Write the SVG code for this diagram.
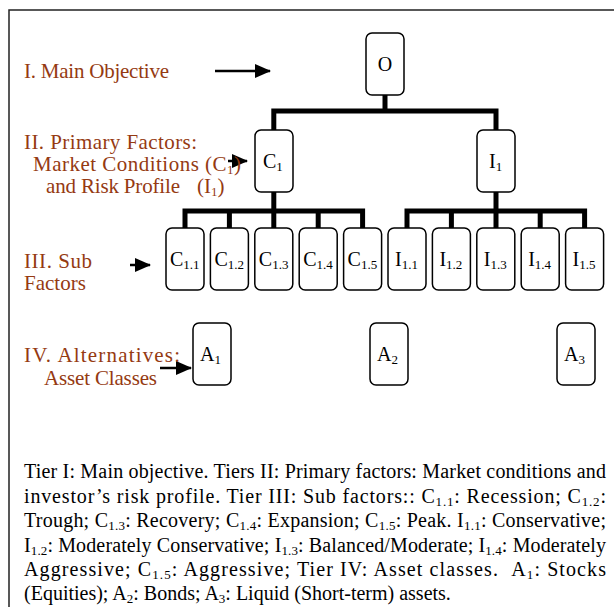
<svg xmlns="http://www.w3.org/2000/svg" width="614" height="607" viewBox="0 0 614 607">
<style>
.box{fill:#fff;stroke:#000;stroke-width:1.5}
.lab{font-family:"Liberation Serif","Times New Roman",serif;font-size:20px;fill:#000}
.tier{font-family:"Liberation Serif","Times New Roman",serif;font-size:21px;fill:#953A12}
.par{font-family:"Liberation Serif","Times New Roman",serif;font-size:20px;fill:#000}
.sub{font-size:13px}
.bar{fill:none;stroke:#000;stroke-width:5;stroke-linejoin:miter}
.arr{stroke:#000;stroke-width:2.5;fill:none}
</style>
<defs>
<marker id="ah" markerUnits="userSpaceOnUse" markerWidth="16" markerHeight="14" refX="15" refY="7" orient="auto">
<path d="M0,0 L16,7 L0,14 Z" fill="#000"/>
</marker>
</defs>
<rect width="614" height="607" fill="#fff"/>
<path d="M9,607 V10 H614" fill="none" stroke="#222" stroke-width="1.5"/>

<g id="connectors">
<path class="bar" d="M385,95 V111"/>
<path class="bar" d="M273.8,130 V111 H496 V130"/>
<path class="bar" d="M273.8,192 V211"/>
<path class="bar" d="M185,228 V211 H362.6 V228"/>
<path class="bar" d="M229.4,211 V228 M273.8,211 V228 M318.2,211 V228"/>
<path class="bar" d="M496,192 V211"/>
<path class="bar" d="M407,228 V211 H584.6 V228"/>
<path class="bar" d="M451.4,211 V228 M496,211 V228 M540.2,211 V228"/>
<line class="arr" x1="215" y1="71" x2="270" y2="71" marker-end="url(#ah)"/>
<line class="arr" x1="228" y1="161" x2="247" y2="161" marker-end="url(#ah)"/>
<line class="arr" x1="130" y1="265" x2="150" y2="265" marker-end="url(#ah)"/>
<line class="arr" x1="160" y1="368" x2="191" y2="368" marker-end="url(#ah)"/>
</g>

<g id="tier-labels">
<text class="tier" x="24" y="78" textLength="145" lengthAdjust="spacing">I. Main Objective</text>
<text class="tier" x="24" y="149" textLength="173" lengthAdjust="spacing">II. Primary Factors:</text>
<text class="tier" x="33" y="171" textLength="208" lengthAdjust="spacing">Market Conditions (C<tspan class="sub" dy="3">1</tspan><tspan dy="-3">)</tspan></text>
<text class="tier" x="46" y="193" textLength="134" lengthAdjust="spacing">and Risk Profile</text>
<text class="tier" x="197" y="193">(I<tspan class="sub" dy="3">1</tspan><tspan dy="-3">)</tspan></text>
<text class="tier" x="24" y="268" textLength="68" lengthAdjust="spacing">III. Sub</text>
<text class="tier" x="24" y="290">Factors</text>
<text class="tier" x="24" y="362" textLength="156" lengthAdjust="spacing">IV. Alternatives:</text>
<text class="tier" x="44" y="385" textLength="113" lengthAdjust="spacing">Asset Classes</text>
</g>

<g id="node-O"><rect class="box" x="366" y="33" width="38" height="62" rx="6"/><text class="lab" x="385" y="71" text-anchor="middle">O</text></g>
<g id="node-C1"><rect class="box" x="255" y="130" width="38" height="62" rx="6"/><text class="lab" x="263" y="168">C<tspan class="sub" dy="3">1</tspan></text></g>
<g id="node-I1"><rect class="box" x="477" y="130" width="38" height="62" rx="6"/><text class="lab" x="489" y="168">I<tspan class="sub" dy="3">1</tspan></text></g>

<g id="node-C1.1"><rect class="box" x="166" y="228" width="38" height="62" rx="6"/><text class="lab" x="170" y="266">C<tspan class="sub" dy="3">1.1</tspan></text></g>
<g id="node-C1.2"><rect class="box" x="210.4" y="228" width="38" height="62" rx="6"/><text class="lab" x="214.4" y="266">C<tspan class="sub" dy="3">1.2</tspan></text></g>
<g id="node-C1.3"><rect class="box" x="254.8" y="228" width="38" height="62" rx="6"/><text class="lab" x="258.8" y="266">C<tspan class="sub" dy="3">1.3</tspan></text></g>
<g id="node-C1.4"><rect class="box" x="299.2" y="228" width="38" height="62" rx="6"/><text class="lab" x="303.2" y="266">C<tspan class="sub" dy="3">1.4</tspan></text></g>
<g id="node-C1.5"><rect class="box" x="343.6" y="228" width="38" height="62" rx="6"/><text class="lab" x="347.6" y="266">C<tspan class="sub" dy="3">1.5</tspan></text></g>
<g id="node-I1.1"><rect class="box" x="388" y="228" width="38" height="62" rx="6"/><text class="lab" x="395" y="266">I<tspan class="sub" dy="3">1.1</tspan></text></g>
<g id="node-I1.2"><rect class="box" x="432.4" y="228" width="38" height="62" rx="6"/><text class="lab" x="439.4" y="266">I<tspan class="sub" dy="3">1.2</tspan></text></g>
<g id="node-I1.3"><rect class="box" x="476.8" y="228" width="38" height="62" rx="6"/><text class="lab" x="483.8" y="266">I<tspan class="sub" dy="3">1.3</tspan></text></g>
<g id="node-I1.4"><rect class="box" x="521.2" y="228" width="38" height="62" rx="6"/><text class="lab" x="528.2" y="266">I<tspan class="sub" dy="3">1.4</tspan></text></g>
<g id="node-I1.5"><rect class="box" x="565.6" y="228" width="38" height="62" rx="6"/><text class="lab" x="572.6" y="266">I<tspan class="sub" dy="3">1.5</tspan></text></g>

<g id="node-A1"><rect class="box" x="193" y="323" width="38" height="62" rx="6"/><text class="lab" x="200" y="361">A<tspan class="sub" dy="3">1</tspan></text></g>
<g id="node-A2"><rect class="box" x="370" y="323" width="38" height="62" rx="6"/><text class="lab" x="377" y="361">A<tspan class="sub" dy="3">2</tspan></text></g>
<g id="node-A3"><rect class="box" x="557" y="323" width="38" height="62" rx="6"/><text class="lab" x="564" y="361">A<tspan class="sub" dy="3">3</tspan></text></g>

<g id="caption">
<text class="par" x="24" y="478" textLength="582" lengthAdjust="spacing">Tier I: Main objective. Tiers II: Primary factors: Market conditions and</text>
<text class="par" x="24" y="503" textLength="582" lengthAdjust="spacing">investor’s risk profile. Tier III: Sub factors:: C<tspan class="sub" dy="3">1.1</tspan><tspan dy="-3">: Recession; C</tspan><tspan class="sub" dy="3">1.2</tspan><tspan dy="-3">:</tspan></text>
<text class="par" x="24" y="527" textLength="582" lengthAdjust="spacing">Trough; C<tspan class="sub" dy="3">1.3</tspan><tspan dy="-3">: Recovery; C</tspan><tspan class="sub" dy="3">1.4</tspan><tspan dy="-3">: Expansion; C</tspan><tspan class="sub" dy="3">1.5</tspan><tspan dy="-3">: Peak. I</tspan><tspan class="sub" dy="3">1.1</tspan><tspan dy="-3">: Conservative;</tspan></text>
<text class="par" x="24" y="552" textLength="582" lengthAdjust="spacing">I<tspan class="sub" dy="3">1.2</tspan><tspan dy="-3">: Moderately Conservative; I</tspan><tspan class="sub" dy="3">1.3</tspan><tspan dy="-3">: Balanced/Moderate; I</tspan><tspan class="sub" dy="3">1.4</tspan><tspan dy="-3">: Moderately</tspan></text>
<text class="par" x="24" y="576" textLength="582" lengthAdjust="spacing">Aggressive; C<tspan class="sub" dy="3">1.5</tspan><tspan dy="-3">: Aggressive; Tier IV: Asset classes. &#160;A</tspan><tspan class="sub" dy="3">1</tspan><tspan dy="-3">: Stocks</tspan></text>
<text class="par" x="24" y="600">(Equities); A<tspan class="sub" dy="3">2</tspan><tspan dy="-3">: Bonds; A</tspan><tspan class="sub" dy="3">3</tspan><tspan dy="-3">: Liquid (Short-term) assets.</tspan></text>
</g>
</svg>
